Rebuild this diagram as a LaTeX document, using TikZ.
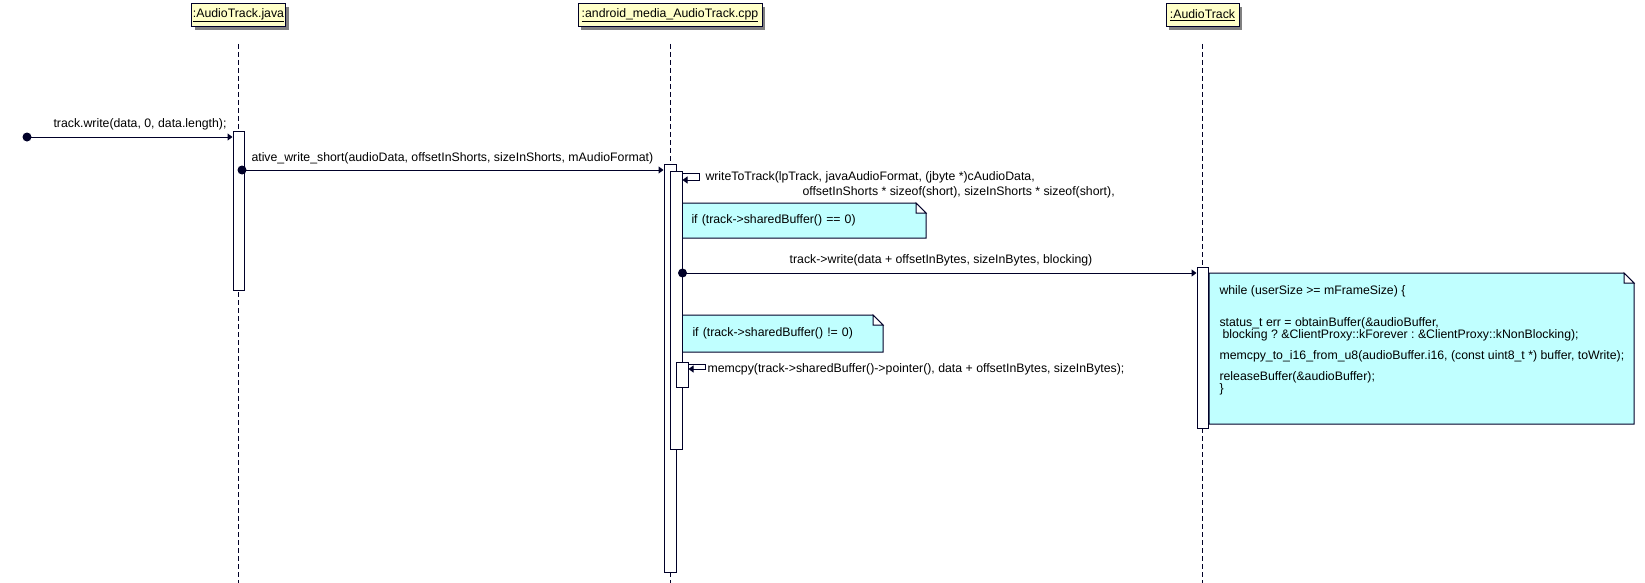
\documentclass[tikz,border=0pt]{standalone}
\usepackage{fontspec}
\setmainfont{Liberation Sans}
\usetikzlibrary{arrows.meta,shadows}
\definecolor{lc}{RGB}{0,0,40}
\definecolor{objfill}{RGB}{255,255,200}
\definecolor{shadowgray}{RGB}{128,128,128}
\definecolor{notefill}{RGB}{192,255,255}
\pgfdeclarelayer{bg}
\pgfsetlayers{bg,main}
\frenchspacing
\begin{document}
\begin{tikzpicture}[x=1pt,y=-1pt,line width=1pt,
  every node/.style={font=\fontsize{12.3}{12.4}\selectfont,text=black},
  objbox/.style={draw=lc,fill=objfill,minimum height=23pt,inner sep=0pt,
    drop shadow={shadow xshift=3pt,shadow yshift=-3pt,fill=shadowgray,opacity=1}},
  life/.style={draw=lc,dash pattern=on 5pt off 3pt},
  bar/.style={draw=lc,fill=white,inner sep=0pt,anchor=north},
  msg/.style={draw=lc,-{Triangle[length=5pt,width=7pt]}},
  dotst/.style={fill=lc},
  notenode/.style={inner sep=0pt,inner xsep=9pt,align=left,anchor=north west},
  noteshape/.style={draw=lc,fill=notefill,line width=1pt},
  foldshape/.style={draw=lc,fill=white,line width=1pt},
  lbl/.style={anchor=west,inner sep=0pt}
]
\useasboundingbox (0,0) rectangle (1645,583);

% objects
\node[objbox,minimum width=94pt] (java) at (238.5,15.5) {\underline{:AudioTrack.java}};
\node[objbox,minimum width=184pt] (cpp) at (670,15.5) {\underline{:android\_media\_AudioTrack.cpp}};
\node[objbox,minimum width=73pt] (at) at (1202.5,15.5) {\underline{:AudioTrack}};

% lifelines
\coordinate (lifetop) at (0,44);
\coordinate (lifebot) at (0,583);
\draw[life] (java.south |- lifetop) -- (java.south |- lifebot);
\draw[life] (cpp.south |- lifetop) -- (cpp.south |- lifebot);
\draw[life] (at.south |- lifetop) -- (at.south |- lifebot);

% activation bars
\node[bar,minimum width=11pt,minimum height=159pt] (jb) at (238.5,131) {};
\node[bar,minimum width=12pt,minimum height=408pt] (co) at (670,164) {};
\node[bar,minimum width=12pt,minimum height=278pt] (ci) at (676,171) {};
\node[bar,minimum width=12pt,minimum height=25pt] (cm) at (682,362) {};
\node[bar,minimum width=11pt,minimum height=161pt] (ab) at (1202.5,267) {};

% message 1
\coordinate (s1) at (27,137);
\draw[msg] (s1) -- (s1 -| jb.west);
\fill[dotst] (s1) circle[radius=4.5pt];
\node[lbl] (l1) at (53,124) {track.write(data, 0, data.length);};

% message 2
\coordinate (s2) at (242,170);
\draw[msg] (s2) -- (s2 -| co.west);
\fill[dotst] (s2) circle[radius=4.5pt];
\node[lbl] (l2) at (251,158) {ative\_write\_short(audioData, offsetInShorts, sizeInShorts, mAudioFormat)};

% message 3 (self)
\coordinate (m3a) at (0,173);
\coordinate (m3b) at (0,180);
\draw[msg] (ci.east |- m3a) -- ++(17,0) -- ++(0,7) -- (ci.east |- m3b);
\node[lbl,anchor=base west,align=left] (l3) at (705,195)
  {writeToTrack(lpTrack, javaAudioFormat, (jbyte *)cAudioData,\\[2.6pt]
   \hspace*{97pt}offsetInShorts * sizeof(short), sizeInShorts * sizeof(short),};

% note 1
\node[notenode,text width=225pt,minimum height=34pt] (n1) at (682,203) {if (track->sharedBuffer() == 0)};

% message 4
\coordinate (m4) at (0,273);
\coordinate (s4) at (ci.east |- m4);
\draw[msg] (s4) -- (s4 -| ab.west);
\fill[dotst] (s4) circle[radius=4.5pt];
\node[anchor=center,inner sep=0pt] (l4) at (941,260) {track->write(data + offsetInBytes, sizeInBytes, blocking)};

% note 2
\node[notenode,inner xsep=10pt,text width=180pt,minimum height=36pt] (n2) at (682,315) {if (track->sharedBuffer() != 0)};

% message 5 (self)
\coordinate (m5a) at (0,364);
\coordinate (m5b) at (0,369);
\draw[msg] (cm.east |- m5a) -- ++(17,0) -- ++(0,5) -- (cm.east |- m5b);
\node[lbl] (l5) at (707,369) {memcpy(track->sharedBuffer()->pointer(), data + offsetInBytes, sizeInBytes);};

% note 3
\node[inner sep=0pt,minimum width=424pt,minimum height=150pt,anchor=north west] (n3) at (1209,273) {};
\node[anchor=north west,align=left,inner sep=0pt] (t3) at (1219,284.5)
  {\rule{0pt}{9pt}while (userSize >= mFrameSize) \{\\[19.6pt]
   status\_t err = obtainBuffer(\&audioBuffer,\\
   \hspace*{3pt}blocking ? \&ClientProxy::kForever : \&ClientProxy::kNonBlocking);\\[8.6pt]
   memcpy\_to\_i16\_from\_u8(audioBuffer.i16, (const uint8\_t *) buffer, toWrite);\\[8.6pt]
   releaseBuffer(\&audioBuffer);\\
   \}};

% background and note outlines
\begin{pgfonlayer}{bg}
\fill[white] (0,0) rectangle (1645,583);
\foreach \n in {n1,n2,n3}{
  \path[noteshape] (\n.north west) -- ([xshift=-10pt]\n.north east) -- ([yshift=-10pt]\n.north east)
     -- (\n.south east) -- (\n.south west) -- cycle;
  \path[foldshape] ([xshift=-10pt]\n.north east) -- ([xshift=-10pt,yshift=-10pt]\n.north east)
     -- ([yshift=-10pt]\n.north east) -- cycle;
}
\end{pgfonlayer}
\end{tikzpicture}
\end{document}
